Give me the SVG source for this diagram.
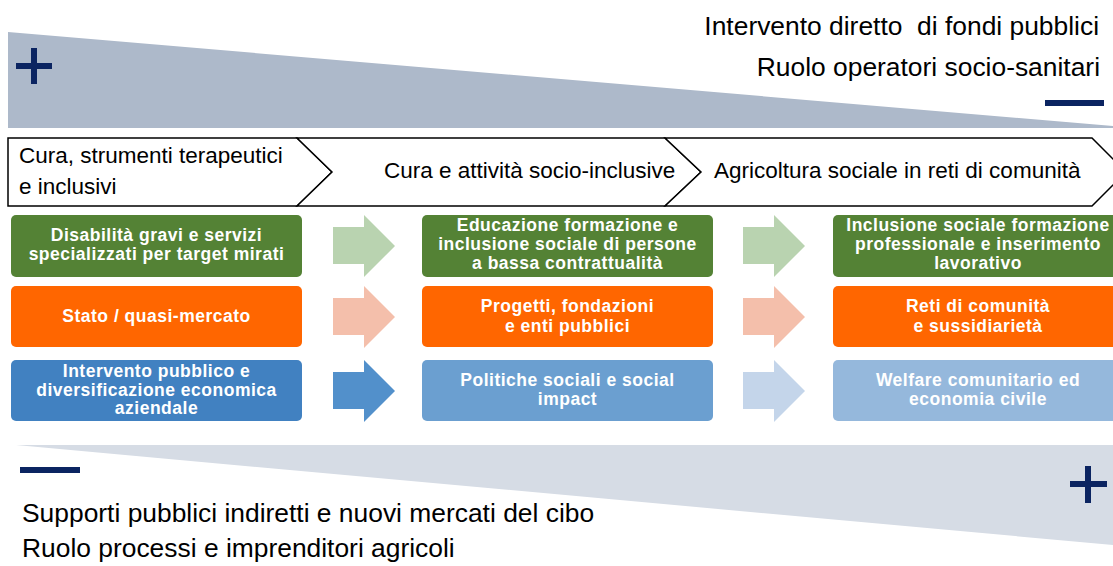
<svg xmlns="http://www.w3.org/2000/svg" width="1113" height="566" viewBox="0 0 1113 566">
<style>
.big{font-family:"Liberation Sans",Arial,sans-serif;font-size:26.4px;fill:#000}
.hdr{font-family:"Liberation Sans",Arial,sans-serif;font-size:22.5px;fill:#000}
.chev{fill:#fff;stroke:#000;stroke-width:1.5;stroke-linejoin:miter}
.bt{font-family:"Liberation Sans",Arial,sans-serif;font-size:17.5px;letter-spacing:0.5px;font-weight:bold;fill:#fff;text-anchor:middle}
.sign{fill:#0b2461}
</style>
<defs>
<path id="arr" d="M0,12 H31 V0 L62,31 L31,62 V49 H0 Z"/>
</defs>
<rect width="1113" height="566" fill="#fff"/>
<!-- top wedge -->
<g id="wedge-top">
<polygon points="8,32 1113,126 1113,128 8,128" fill="#adb9ca"/>
<rect class="sign" x="16" y="63" width="36" height="6"/>
<rect class="sign" x="31" y="48" width="6" height="36"/>
<rect class="sign" x="1045" y="100" width="59" height="6"/>
<text class="big" x="1099" y="35" text-anchor="end">Intervento diretto &#160;di fondi pubblici</text>
<text class="big" x="1100" y="76" text-anchor="end">Ruolo operatori socio-sanitari</text>
</g>
<!-- header chevrons -->
<g id="stage1">
<polygon class="chev" points="8,138 297,138 332,172 297,206 8,206"/>
<text class="hdr" x="19" y="163">Cura, strumenti terapeutici</text>
<text class="hdr" x="19" y="194">e inclusivi</text>
</g>
<g id="stage2">
<polygon class="chev" points="297,138 665,138 701,172 665,206 297,206 332,172"/>
<text class="hdr" x="384" y="178">Cura e attività socio-inclusive</text>
</g>
<g id="stage3">
<polygon class="chev" points="665,138 1092,138 1126,172 1092,206 665,206 701,172"/>
<text class="hdr" x="714" y="178">Agricoltura sociale in reti di comunità</text>
</g>
<!-- row 1 green -->
<g id="g1">
<rect x="11" y="215" width="291" height="62" rx="5" fill="#548235"/>
<text class="bt" x="156.5" y="241">Disabilità gravi e servizi</text>
<text class="bt" x="156.5" y="260">specializzati per target mirati</text>
</g>
<g id="g2">
<rect x="422" y="215" width="291" height="62" rx="5" fill="#548235"/>
<text class="bt" x="567.5" y="231">Educazione formazione e</text>
<text class="bt" x="567.5" y="250">inclusione sociale di persone</text>
<text class="bt" x="567.5" y="269">a bassa contrattualità</text>
</g>
<g id="g3">
<rect x="833" y="215" width="291" height="62" rx="5" fill="#548235"/>
<text class="bt" x="978" y="231">Inclusione sociale formazione</text>
<text class="bt" x="978" y="250">professionale e inserimento</text>
<text class="bt" x="978" y="269">lavorativo</text>
</g>
<!-- row 2 orange -->
<g id="o1">
<rect x="11" y="286" width="291" height="61" rx="5" fill="#ff6600"/>
<text class="bt" x="156.5" y="322">Stato / quasi-mercato</text>
</g>
<g id="o2">
<rect x="422" y="286" width="291" height="61" rx="5" fill="#ff6600"/>
<text class="bt" x="567.5" y="312">Progetti, fondazioni</text>
<text class="bt" x="567.5" y="332">e enti pubblici</text>
</g>
<g id="o3">
<rect x="833" y="286" width="291" height="61" rx="5" fill="#ff6600"/>
<text class="bt" x="978" y="312">Reti di comunità</text>
<text class="bt" x="978" y="332">e sussidiarietà</text>
</g>
<!-- row 3 blue -->
<g id="b1">
<rect x="11" y="360" width="291" height="61" rx="5" fill="#4181c1"/>
<text class="bt" x="156.5" y="377">Intervento pubblico e</text>
<text class="bt" x="156.5" y="395.5">diversificazione economica</text>
<text class="bt" x="156.5" y="414">aziendale</text>
</g>
<g id="b2">
<rect x="422" y="360" width="291" height="61" rx="5" fill="#6b9fd0"/>
<text class="bt" x="567.5" y="386">Politiche sociali e social</text>
<text class="bt" x="567.5" y="405">impact</text>
</g>
<g id="b3">
<rect x="833" y="360" width="291" height="61" rx="5" fill="#95b8dc"/>
<text class="bt" x="978" y="386">Welfare comunitario ed</text>
<text class="bt" x="978" y="405">economia civile</text>
</g>
<!-- connectors (block arrows) -->
<g id="connectors">
<use href="#arr" x="333" y="215" fill="#b9d3b0"/>
<use href="#arr" x="743" y="215" fill="#b9d3b0"/>
<use href="#arr" x="333" y="286" fill="#f4bfab"/>
<use href="#arr" x="743" y="286" fill="#f4bfab"/>
<use href="#arr" x="333" y="360" fill="#5290cb"/>
<use href="#arr" x="743" y="360" fill="#c4d5ea"/>
</g>
<!-- bottom wedge -->
<g id="wedge-bottom">
<polygon points="16,445 1113,445 1113,545" fill="#d6dce5"/>
<rect class="sign" x="20" y="467" width="60" height="6"/>
<rect class="sign" x="1070" y="481" width="37" height="6"/>
<rect class="sign" x="1085" y="466" width="6" height="37"/>
<text class="big" x="22" y="522">Supporti pubblici indiretti e nuovi mercati del cibo</text>
<text class="big" x="22" y="557">Ruolo processi e imprenditori agricoli</text>
</g>
</svg>
